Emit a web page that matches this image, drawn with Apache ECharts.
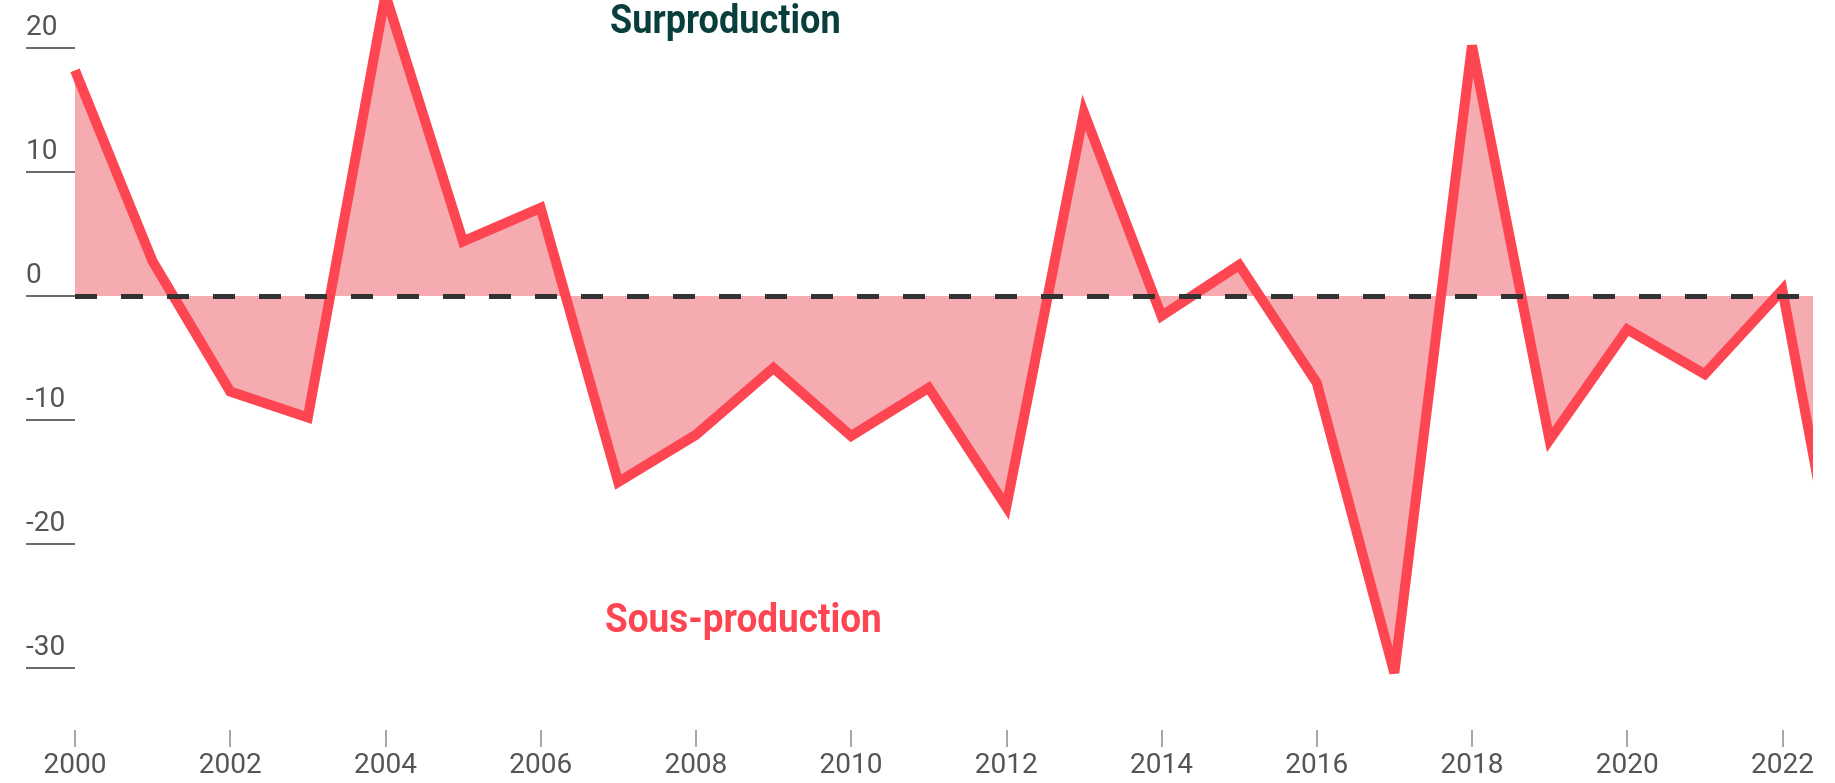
<!DOCTYPE html>
<html>
<head>
<meta charset="utf-8">
<title>Surproduction / Sous-production</title>
<script src="https://cdn.jsdelivr.net/npm/echarts@6/dist/echarts.min.js"></script>
<style>
  html, body { margin: 0; padding: 0; background: #fff; }
  #chart { width: 1835px; height: 783px; }
</style>
</head>
<body>
<div id="chart"></div>
<script>
// données
const years = [2000, 2001, 2002, 2003, 2004, 2005, 2006, 2007, 2008, 2009, 2010, 2011,
  2012, 2013, 2014, 2015, 2016, 2017, 2018, 2019, 2020, 2021, 2022, 2023];
const balance = [18.2, 2.8, -7.7, -9.8, 24.3, 4.4, 7.1, -15.0, -11.2, -5.8, -11.3, -7.4,
  -17.0, 14.8, -1.6, 2.5, -7.0, -30.4, 20.2, -11.6, -2.7, -6.3, 0.5, -33];
const xTicks = [2000, 2002, 2004, 2006, 2008, 2010, 2012, 2014, 2016, 2018, 2020, 2022];
const yTicks = [-30, -20, -10, 0, 10, 20];
const labels = ['Surproduction', 'Sous-production'];

const chart = echarts.init(document.getElementById('chart'));

const option = {
  animation: false,
  backgroundColor: '#fff',
  grid: { left: 75, right: 27, top: 0, bottom: 53 },
  xAxis: {
    type: 'value',
    min: 2000,
    max: 2022.33,
    axisLine: { show: false, onZero: false },
    splitLine: { show: false },
    axisTick: {
      customValues: xTicks,
      length: 17,
      lineStyle: { color: '#8a8a8a', width: 1.5 }
    },
    axisLabel: {
      customValues: xTicks,
      formatter: (v) => String(v),
      margin: 22,
      verticalAlign: 'top',
      color: '#555',
      fontFamily: 'Roboto',
      fontSize: 28
    }
  },
  yAxis: {
    type: 'value',
    min: -35,
    max: 23.87,
    axisLine: { show: false },
    splitLine: { show: false },
    axisTick: {
      customValues: yTicks,
      length: 49,
      lineStyle: { color: '#3a3a3a', width: 1.5 }
    },
    axisLabel: {
      customValues: yTicks,
      margin: 49,
      align: 'left',
      verticalAlign: 'bottom',
      padding: [0, 0, 6, 0],
      color: '#555',
      fontFamily: 'Roboto',
      fontSize: 28
    }
  },
  series: [{
    type: 'line',
    data: years.map((y, i) => [y, balance[i]]),
    symbol: 'none',
    clip: true,
    lineStyle: { color: '#fe4652', width: 10, join: 'miter', miterLimit: 4 },
    areaStyle: { color: '#f5abb0', opacity: 1, origin: 0 },
    markLine: {
      silent: true,
      symbol: 'none',
      label: { show: false },
      lineStyle: { color: '#333', width: 5, type: [22, 24], opacity: 1 },
      data: [{ yAxis: 0 }]
    }
  }],
  graphic: [
    {
      type: 'text', x: 610, y: 23, scaleX: 0.88,
      style: { text: labels[0], x: 0, y: 0, align: 'left', verticalAlign: 'middle',
        font: 'bold 41px Roboto', fill: '#083f3d' }
    },
    {
      type: 'text', x: 605, y: 622, scaleX: 0.9,
      style: { text: labels[1], x: 0, y: 0, align: 'left', verticalAlign: 'middle',
        font: 'bold 41px Roboto', fill: '#fe4652' }
    }
  ]
};

chart.setOption(option);
</script>
</body>
</html>
